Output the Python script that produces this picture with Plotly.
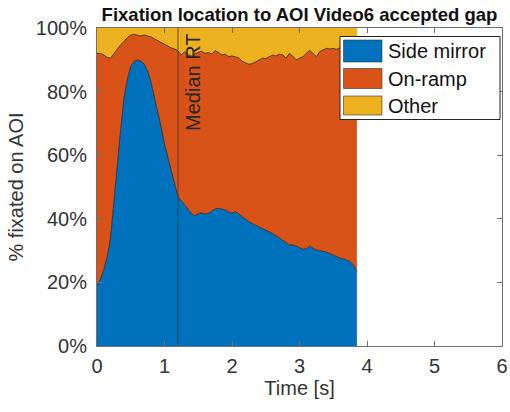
import plotly.graph_objects as go

# ---- data ----
time_s = [0.00, 0.05, 0.10, 0.15, 0.20, 0.25, 0.30, 0.35, 0.40, 0.45,
          0.50, 0.55, 0.60, 0.65, 0.70, 0.75, 0.80, 0.85, 0.90, 0.95,
          1.00, 1.05, 1.10, 1.15, 1.20, 1.25, 1.30, 1.35, 1.40, 1.45,
          1.50, 1.55, 1.60, 1.65, 1.70, 1.75, 1.80, 1.85, 1.90, 1.95,
          2.00, 2.05, 2.10, 2.15, 2.20, 2.25, 2.30, 2.35, 2.40, 2.45,
          2.50, 2.55, 2.60, 2.65, 2.70, 2.75, 2.80, 2.85, 2.90, 2.95,
          3.00, 3.05, 3.10, 3.15, 3.20, 3.25, 3.30, 3.35, 3.40, 3.45,
          3.50, 3.55, 3.60, 3.65, 3.70, 3.75, 3.80, 3.85]

# % fixated on side mirror (bottom layer)
side_mirror = [19.0, 21.0, 24.0, 28.0, 34.0, 46.0, 57.0, 68.0, 78.0, 84.0,
               88.0, 89.5, 90.0, 89.6, 88.6, 86.5, 83.0, 78.5, 73.5, 68.8,
               63.5, 59.0, 55.0, 51.0, 47.0, 45.5, 44.3, 43.0, 41.6, 41.0,
               41.6, 41.9, 41.4, 41.8, 42.5, 43.1, 43.3, 43.0, 42.8, 42.2,
               41.7, 42.3, 41.5, 40.5, 39.8, 39.1, 38.5, 38.0, 37.5, 37.0,
               36.5, 35.8, 35.4, 34.7, 34.0, 33.3, 32.6, 31.8, 31.8, 31.5,
               31.0, 30.4, 30.6, 31.4, 30.8, 30.2, 30.0, 29.8, 29.5, 29.1,
               28.6, 28.2, 27.6, 27.4, 27.0, 26.6, 25.5, 23.4]

# cumulative level: side mirror + on-ramp (top of orange layer)
mirror_plus_ramp = [92.0, 92.0, 91.5, 90.8, 90.5, 92.0, 93.5, 94.7, 95.8, 97.0,
                    97.8, 98.0, 97.7, 97.5, 97.8, 97.6, 97.2, 96.6, 96.0, 95.3,
                    94.8, 94.3, 93.7, 93.4, 92.8, 91.5, 92.6, 91.6, 91.2, 92.0,
                    92.4, 92.7, 92.0, 92.3, 91.8, 92.9, 92.3, 91.5, 91.8, 91.0,
                    91.2, 90.8, 90.6, 89.5, 89.0, 88.6, 88.8, 89.4, 90.0, 90.5,
                    90.4, 91.0, 91.5, 91.2, 91.8, 91.6, 90.5, 92.0, 91.2, 90.0,
                    90.5, 91.0, 92.0, 93.0, 92.0, 91.0, 92.6, 93.0, 93.6, 93.4,
                    93.6, 93.3, 93.8, 93.5, 93.3, 93.6, 93.4, 93.5]

on_ramp = [round(t - s, 2) for t, s in zip(mirror_plus_ramp, side_mirror)]
other = [round(100 - t, 2) for t in mirror_plus_ramp]

series_names = ["Side mirror", "On-ramp", "Other"]
series_colors = ["#0072BD", "#D95319", "#EDB120"]
median_rt = 1.2

x_ticks = [0, 1, 2, 3, 4, 5, 6]
y_ticks = [0, 20, 40, 60, 80, 100]
y_tick_labels = ["0%", "20%", "40%", "60%", "80%", "100%"]

FONT = "Liberation Sans, Arial, Helvetica, sans-serif"
TXT = "#333333"
AX = "#707070"

W, H = 510, 412
L, R, T, B = 97, 8, 28, 66
PW, PH = W - L - R, H - T - B


def px(xp):
    return (xp - L) / PW


def py(yp):
    return (H - B - yp) / PH


fig = go.Figure()
for name, vals, col in zip(series_names, [side_mirror, on_ramp, other], series_colors):
    fig.add_trace(go.Scatter(
        x=time_s, y=vals, name=name, mode="lines", stackgroup="one",
        fillcolor=col,
        line=dict(color="#222222" if name != "Other" else col, width=0.8 if name != "Other" else 0),
        showlegend=False, hoverinfo="skip"))

fig.add_trace(go.Scatter(x=[median_rt, median_rt], y=[0, 100], mode="lines",
                         line=dict(color="#3a3a3a", width=0.8),
                         showlegend=False, hoverinfo="skip"))

fig.add_annotation(x=median_rt + 0.22, y=83, xref="x", yref="y", text="Median RT",
                   textangle=-90, showarrow=False, xanchor="center", yanchor="middle",
                   font=dict(size=20, color="#262626", family=FONT))

# manual legend (MATLAB-style large patches)
shapes = [dict(type="rect", xref="paper", yref="paper",
               x0=px(340), x1=px(500), y0=py(119.5), y1=py(36.5),
               fillcolor="white", line=dict(color="#262626", width=1), layer="above")]
patch_rows = [(40, 62), (68.5, 88.5), (96, 115)]
for (ya, yb), col, name in zip(patch_rows, series_colors, series_names):
    shapes.append(dict(type="rect", xref="paper", yref="paper",
                       x0=px(343.5), x1=px(382), y0=py(yb), y1=py(ya),
                       fillcolor=col, line=dict(color="#333333", width=0.6), layer="above"))
    fig.add_annotation(x=px(386), y=py((ya + yb) / 2), xref="paper", yref="paper",
                       text=name, showarrow=False, xanchor="left", yanchor="middle",
                       font=dict(size=20, color="#111111", family=FONT))

fig.update_layout(
    width=W, height=H,
    margin=dict(l=L, r=R, t=T, b=B, autoexpand=False),
    paper_bgcolor="white", plot_bgcolor="white",
    font=dict(family=FONT, size=20, color=TXT),
    shapes=shapes,
    showlegend=False,
    title=dict(text="<b>Fixation location to AOI Video6 accepted gap</b>",
               x=0.5, xref="paper", xanchor="center",
               y=1 - 15 / H, yref="container", yanchor="middle",
               font=dict(size=18.5, color="#111111", family=FONT)),
    xaxis=dict(range=[0, 6], tickvals=x_ticks, ticks="inside", ticklen=5,
               tickcolor=AX, showline=True, linecolor=AX, linewidth=1,
               mirror="allticks", showgrid=False, zeroline=False, automargin=False,
               ticklabelstandoff=2,
               tickfont=dict(size=20, color=TXT),
               title=dict(text="Time [s]", standoff=2, font=dict(size=20, color=TXT))),
    yaxis=dict(range=[0, 100], tickvals=y_ticks, ticktext=y_tick_labels, ticks="inside",
               ticklen=5, tickcolor=AX, showline=True, linecolor=AX, linewidth=1,
               mirror="allticks", showgrid=False, zeroline=False, automargin=False,
               ticklabelstandoff=5,
               tickfont=dict(size=20, color=TXT),
               title=dict(text="% fixated on AOI", standoff=6, font=dict(size=20, color=TXT))),
)

fig.write_html("out.html")
